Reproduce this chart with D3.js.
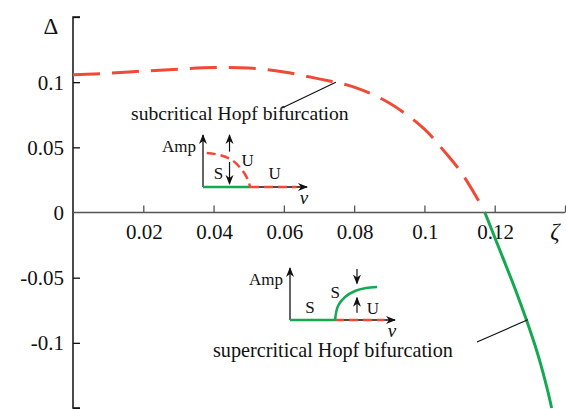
<!DOCTYPE html>
<html>
<head>
<meta charset="utf-8">
<script src="https://cdn.jsdelivr.net/npm/d3@7"></script>
<style>
  body { margin: 0; background: #fff; }
  svg text { font-family: "Liberation Serif", "Times New Roman", serif; fill: #111; }
</style>
</head>
<body>
<div id="chart"></div>
<script>
// Size of the picture
const width = 566;
const height = 409;

// Main curve, subcritical part (dashed red)
const subZeta  = [0, 0.01, 0.02, 0.03, 0.04, 0.05, 0.06, 0.07, 0.08, 0.09, 0.1, 0.105, 0.11, 0.115, 0.1172];
const subDelta = [0.1057, 0.1068, 0.1085, 0.1100, 0.1112, 0.1108, 0.1078, 0.1025, 0.0962, 0.084, 0.064, 0.049, 0.0325, 0.011, 0];

// Main curve, supercritical part (solid green)
const supZeta  = [0.1172, 0.12, 0.1225, 0.125, 0.1275, 0.13, 0.1325, 0.135, 0.1362];
const supDelta = [0, -0.019, -0.036, -0.053, -0.071, -0.09, -0.111, -0.136, -0.15];

// Tick labels
const xTicks = [0.02, 0.04, 0.06, 0.08, 0.1, 0.12];
const yTicks = [0.1, 0.05, 0, -0.05, -0.1];

// Inset sketches (unit coordinates inside each inset)
const subInsetV   = [0.036, 0.163, 0.279, 0.375, 0.433, 0.452];
const subInsetAmp = [0.654, 0.615, 0.519, 0.327, 0.135, 0];
const supInsetV   = [0.429, 0.457, 0.524, 0.619, 0.724, 0.829];
const supInsetAmp = [0, 0.269, 0.442, 0.558, 0.615, 0.635];

const red = "#f04a36";
const green = "#14a850";

const svg = d3.select("#chart").append("svg")
    .attr("width", width)
    .attr("height", height);

// arrow head
svg.append("defs").append("marker")
    .attr("id", "arr")
    .attr("viewBox", "0 0 10 10")
    .attr("refX", 9).attr("refY", 5)
    .attr("markerWidth", 10).attr("markerHeight", 10)
    .attr("markerUnits", "userSpaceOnUse")
    .attr("orient", "auto")
  .append("path")
    .attr("d", "M0,1 L10,5 L0,9 L3,5 Z")
    .attr("fill", "#111");

const x = d3.scaleLinear().domain([0, 0.14]).range([73, 565]);
const y = d3.scaleLinear().domain([-0.15, 0.15]).range([408, 17]);

// y axis
const yAxis = svg.append("g")
    .attr("transform", `translate(${x(0)},0)`)
    .call(d3.axisRight(y).tickValues([0.15, 0.1, 0.05, -0.05, -0.1, -0.15]).tickSize(7).tickFormat(""));
yAxis.select(".domain").attr("d", `M7,${y(0.15)}H0V${y(-0.15)}H7`).attr("stroke", "#111").attr("stroke-width", 1.5);
yAxis.selectAll(".tick line").attr("stroke", "#111").attr("stroke-width", 1.3);

svg.append("g").selectAll("text")
    .data(yTicks)
    .enter().append("text")
    .attr("x", 64)
    .attr("y", d => y(d))
    .attr("dy", "0.35em")
    .attr("text-anchor", "end")
    .attr("font-size", 21)
    .text(d => String(d));

svg.append("text")
    .attr("x", 51).attr("y", 34)
    .attr("text-anchor", "middle")
    .attr("font-size", 23)
    .text("Δ");

// x axis on Δ = 0
const xAxis = svg.append("g")
    .attr("transform", `translate(0,${y(0)})`)
    .call(d3.axisTop(x).tickValues([0.02, 0.04, 0.06, 0.08, 0.1, 0.12, 0.14]).tickSize(7).tickFormat(""));
xAxis.select(".domain").attr("stroke", "#555").attr("stroke-width", 1.5).attr("d", `M${x(0)},0H${x(0.14)}`);
xAxis.selectAll(".tick line").attr("stroke", "#555").attr("stroke-width", 1.3);

svg.append("g").selectAll("text")
    .data(xTicks)
    .enter().append("text")
    .attr("x", d => x(d) + 1)
    .attr("y", y(0) + 26)
    .attr("text-anchor", "middle")
    .attr("font-size", 21)
    .text(d => String(d));

svg.append("text")
    .attr("x", x(0.1371)).attr("y", y(0) + 26)
    .attr("text-anchor", "middle")
    .attr("font-size", 23)
    .attr("font-style", "italic")
    .text("ζ");

// curves
const line = d3.line().curve(d3.curveCatmullRom);

svg.append("path")
    .datum(subZeta.map((z, i) => [x(z), y(subDelta[i])]))
    .attr("d", line)
    .attr("fill", "none")
    .attr("stroke", red)
    .attr("stroke-width", 3)
    .attr("stroke-dasharray", "27,12");

svg.append("path")
    .datum(supZeta.map((z, i) => [x(z), y(supDelta[i])]))
    .attr("d", line)
    .attr("fill", "none")
    .attr("stroke", green)
    .attr("stroke-width", 3);

// annotations
svg.append("line")
    .attr("x1", 282).attr("y1", 108)
    .attr("x2", x(0.0748)).attr("y2", y(0.1))
    .attr("stroke", "#111").attr("stroke-width", 1.2);
svg.append("text")
    .attr("x", 131).attr("y", 120)
    .attr("font-size", 19.6)
    .text("subcritical Hopf bifurcation");

svg.append("line")
    .attr("x1", 477).attr("y1", 342)
    .attr("x2", x(0.1294)).attr("y2", y(-0.0823))
    .attr("stroke", "#111").attr("stroke-width", 1.2);
svg.append("text")
    .attr("x", 213).attr("y", 357)
    .attr("font-size", 20.2)
    .text("supercritical Hopf bifurcation");

// inset helper
function inset(ox, oy, w, h, vs, amps, solidEnd, curveColor, curveDash, labels, arrows) {
  const ix = d3.scaleLinear().domain([0, 1]).range([ox, ox + w]);
  const iy = d3.scaleLinear().domain([0, 1]).range([oy, oy - h]);
  const g = svg.append("g");
  // axes
  g.append("line").attr("x1", ix(0)).attr("y1", iy(0)).attr("x2", ix(0)).attr("y2", iy(1))
    .attr("stroke", "#111").attr("stroke-width", 1.3).attr("marker-end", "url(#arr)");
  g.append("line").attr("x1", ix(0)).attr("y1", iy(0)).attr("x2", ix(1)).attr("y2", iy(0))
    .attr("stroke", "#111").attr("stroke-width", 1.3).attr("marker-end", "url(#arr)");
  // trivial branch
  g.append("line").attr("x1", ix(0)).attr("y1", iy(0)).attr("x2", ix(solidEnd)).attr("y2", iy(0))
    .attr("stroke", green).attr("stroke-width", 2.5);
  g.append("line").attr("x1", ix(solidEnd)).attr("y1", iy(0)).attr("x2", ix(0.9)).attr("y2", iy(0))
    .attr("stroke", red).attr("stroke-width", 2.5).attr("stroke-dasharray", "9,5");
  // bifurcated branch
  g.append("path")
    .datum(vs.map((v, i) => [ix(v), iy(amps[i])]))
    .attr("d", d3.line().curve(d3.curveCatmullRom))
    .attr("fill", "none")
    .attr("stroke", curveColor)
    .attr("stroke-width", 2.5)
    .attr("stroke-dasharray", curveDash);
  g.append("text").attr("x", ix(0) - 7).attr("y", iy(0.67)).attr("text-anchor", "end")
    .attr("font-size", 17).text("Amp");
  g.append("text").attr("x", ix(0.97)).attr("y", iy(0) + 17).attr("text-anchor", "middle")
    .attr("font-size", 19).attr("font-style", "italic").text("ν");
  labels.forEach(l => {
    g.append("text").attr("x", ix(l[0])).attr("y", iy(l[1])).attr("text-anchor", "middle")
      .attr("font-size", 17).text(l[2]);
  });
  arrows.forEach(a => {
    g.append("line").attr("x1", ix(a[0])).attr("y1", iy(a[1])).attr("x2", ix(a[0])).attr("y2", iy(a[2]))
      .attr("stroke", "#111").attr("stroke-width", 1.2).attr("marker-end", "url(#arr)");
  });
}

inset(203, 187, 104, 52, subInsetV, subInsetAmp, 0.452, red, "9,5",
  [[0.15, 0.16, "S"], [0.43, 0.4, "U"], [0.69, 0.16, "U"]],
  [[0.255, 0.68, 1.0], [0.255, 0.48, 0.06]]);

inset(290, 320, 105, 52, supInsetV, supInsetAmp, 0.429, green, null,
  [[0.19, 0.13, "S"], [0.43, 0.42, "S"], [0.79, 0.11, "U"]],
  [[0.638, 0.98, 0.70], [0.638, 0.14, 0.43]]);
</script>
</body>
</html>
